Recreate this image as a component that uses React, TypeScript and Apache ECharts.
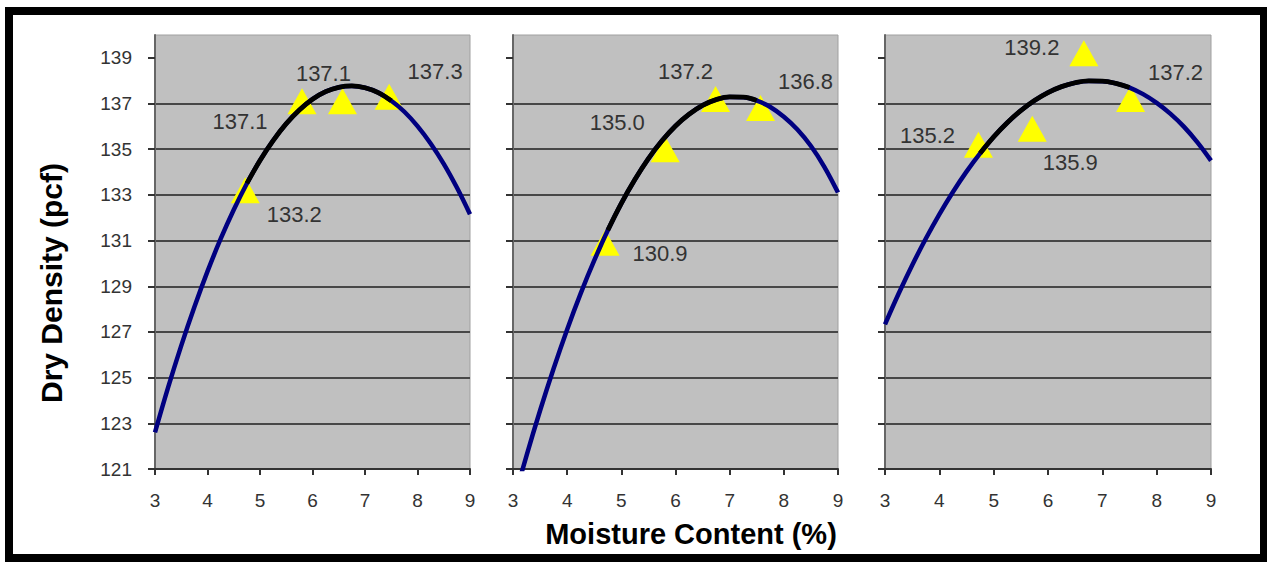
import React, { useEffect, useRef } from "react";
import * as echarts from "echarts";

// Moisture content (%) at which the fitted curves were read
const moisture = [3, 3.25, 3.5, 3.75, 4, 4.25, 4.5, 4.75, 5, 5.25, 5.5, 5.75, 6, 6.25, 6.5, 6.75, 7, 7.25, 7.5, 7.75, 8, 8.25, 8.5, 8.75, 9];

// Fitted curves (dry density, pcf)
const curve1 = [122.6, 124.57, 126.4, 128.09, 129.65, 131.07, 132.35, 133.5, 134.51, 135.38, 136.12, 136.72, 137.19, 137.52, 137.71, 137.77, 137.69, 137.48, 137.12, 136.64, 136.01, 135.25, 134.36, 133.32, 132.15];
const curve2 = [119.48, 121.59, 123.56, 125.4, 127.11, 128.69, 130.13, 131.45, 132.63, 133.67, 134.59, 135.37, 136.02, 136.53, 136.92, 137.17, 137.29, 137.28, 137.13, 136.85, 136.42, 135.86, 135.14, 134.22, 133.1];
const curve3 = [127.33, 128.67, 129.92, 131.08, 132.15, 133.13, 134.02, 134.82, 135.54, 136.16, 136.69, 137.13, 137.48, 137.74, 137.91, 137.99, 137.98, 137.88, 137.7, 137.41, 137.03, 136.56, 135.99, 135.3, 134.5];

// Range of the tested points (black part of the curve)
const range1 = [4.7, 7.6];
const range2 = [4.7, 7.6];
const range3 = [4.7, 7.6];

// Test points
const points1X = [4.72, 5.8, 6.57, 7.46];
const points1Y = [133.2, 137.1, 137.1, 137.3];
const points2X = [4.7, 5.81, 6.74, 7.57];
const points2Y = [130.9, 135.0, 137.2, 136.8];
const points3X = [4.72, 5.71, 6.66, 7.52];
const points3Y = [135.2, 135.9, 139.2, 137.2];

// Axis ticks
const yTicks = [121, 123, 125, 127, 129, 131, 133, 135, 137, 139];
const xTicks = [3, 4, 5, 6, 7, 8, 9];

// Label placement (styling, px offsets from the marker)
const offsets1 = [[49, 24], [-62, 20], [-19, -28], [46, -25]];
const offsets2 = [[55, 11], [-48, -27], [-30, -27], [45, -27]];
const offsets3 = [[-51, -9], [38, 34], [-52, -6], [45, -26]];

const FONT = "Liberation Sans, Arial, sans-serif";

export default function App() {
  const ref = useRef<HTMLDivElement>(null);

  useEffect(() => {
    const chart = echarts.init(ref.current as HTMLDivElement, null, { renderer: "svg" });

    const grids = [
      { left: 155, top: 35, width: 315, height: 434 },
      { left: 513, top: 35, width: 325, height: 434 },
      { left: 885, top: 35, width: 326, height: 434 },
    ].map((g) => ({
      ...g,
      show: true,
      backgroundColor: "#c0c0c0",
      borderColor: "#a0a0a0",
      borderWidth: 1,
    }));

    const xAxes = [0, 1, 2].map((i) => ({
      type: "value",
      gridIndex: i,
      min: 3,
      max: 9,
      interval: 1,
      axisLine: { show: true, onZero: false, lineStyle: { color: "#333", width: 2 } },
      axisTick: { show: true, length: 6, inside: false, lineStyle: { color: "#333", width: 2 }, customValues: xTicks },
      axisLabel: { show: true, margin: 22, fontSize: 19, color: "#333", fontFamily: FONT, customValues: xTicks },
      splitLine: { show: false },
    }));

    const yAxes = [0, 1, 2].map((i) => ({
      type: "value",
      gridIndex: i,
      min: 121,
      max: 140,
      interval: 2,
      axisLine: { show: true, lineStyle: { color: "#666", width: 2 } },
      axisTick: { show: true, length: 7, lineStyle: { color: "#333", width: 2 }, customValues: yTicks },
      axisLabel: {
        show: i === 0,
        margin: 23,
        fontSize: 19,
        color: "#333",
        fontFamily: FONT,
        customValues: yTicks,
      },
      splitLine: { show: true, showMaxLine: false, showMinLine: false, lineStyle: { color: "#474747", width: 2 } },
    }));

    const curves = [curve1, curve2, curve3];
    const ranges = [range1, range2, range3];
    const pxs = [points1X, points2X, points3X];
    const pys = [points1Y, points2Y, points3Y];
    const offs = [offsets1, offsets2, offsets3];

    const series: any[] = [];
    for (let i = 0; i < 3; i++) {
      const pairs = moisture.map((x, k) => [x, curves[i][k]]);
      const inner = pairs.filter((p) => p[0] >= ranges[i][0] && p[0] <= ranges[i][1]);
      const o = offs[i];
      series.push({
        type: "scatter",
        xAxisIndex: i,
        yAxisIndex: i,
        symbol: "triangle",
        symbolSize: [29, 26],
        itemStyle: { color: "#ffff00", opacity: 1 },
        z: 2,
        silent: true,
        label: {
          show: true,
          position: "inside",
          color: "#333",
          fontSize: 22,
          fontFamily: FONT,
          formatter: (p: any) => p.value[1].toFixed(1),
        },
        labelLayout: (p: any) => ({ dx: o[p.dataIndex][0], dy: o[p.dataIndex][1], hideOverlap: false }),
        data: pxs[i].map((x, k) => [x, pys[i][k]]),
      });
      series.push({
        type: "line",
        xAxisIndex: i,
        yAxisIndex: i,
        smooth: 0.4,
        symbol: "none",
        showSymbol: false,
        clip: true,
        lineStyle: { color: "#000080", width: 4.5 },
        z: 3,
        silent: true,
        data: pairs,
      });
      series.push({
        type: "line",
        xAxisIndex: i,
        yAxisIndex: i,
        smooth: 0.4,
        symbol: "none",
        showSymbol: false,
        clip: true,
        lineStyle: { color: "#000000", width: 4.8 },
        z: 4,
        silent: true,
        data: inner,
      });
    }

    const option: any = {
      animation: false,
      backgroundColor: "#ffffff",
      grid: grids,
      xAxis: xAxes,
      yAxis: yAxes,
      series,
      graphic: [
        { type: "rect", shape: { x: 5, y: 7, width: 1262, height: 8 }, style: { fill: "#000" }, z: 100 },
        { type: "rect", shape: { x: 5, y: 7, width: 8, height: 555 }, style: { fill: "#000" }, z: 100 },
        { type: "rect", shape: { x: 1260, y: 7, width: 7, height: 555 }, style: { fill: "#000" }, z: 100 },
        { type: "rect", shape: { x: 5, y: 554, width: 1262, height: 8 }, style: { fill: "#000" }, z: 100 },
        {
          type: "text",
          x: 691,
          y: 534,
          style: {
            text: "Moisture Content (%)",
            fontSize: 29,
            fontWeight: "bold",
            fontFamily: FONT,
            fill: "#000",
            align: "center",
            verticalAlign: "middle",
          },
          z: 100,
        },
        {
          type: "text",
          x: 51,
          y: 283,
          rotation: Math.PI / 2,
          style: {
            text: "Dry Density (pcf)",
            fontSize: 30,
            fontWeight: "bold",
            fontFamily: FONT,
            fill: "#000",
            align: "center",
            verticalAlign: "middle",
          },
          z: 100,
        },
      ],
    };

    chart.setOption(option);
    return () => chart.dispose();
  }, []);

  return (
    <div
      ref={ref}
      style={{ position: "absolute", left: 0, top: 0, width: 1267, height: 562, background: "#fff" }}
    />
  );
}
